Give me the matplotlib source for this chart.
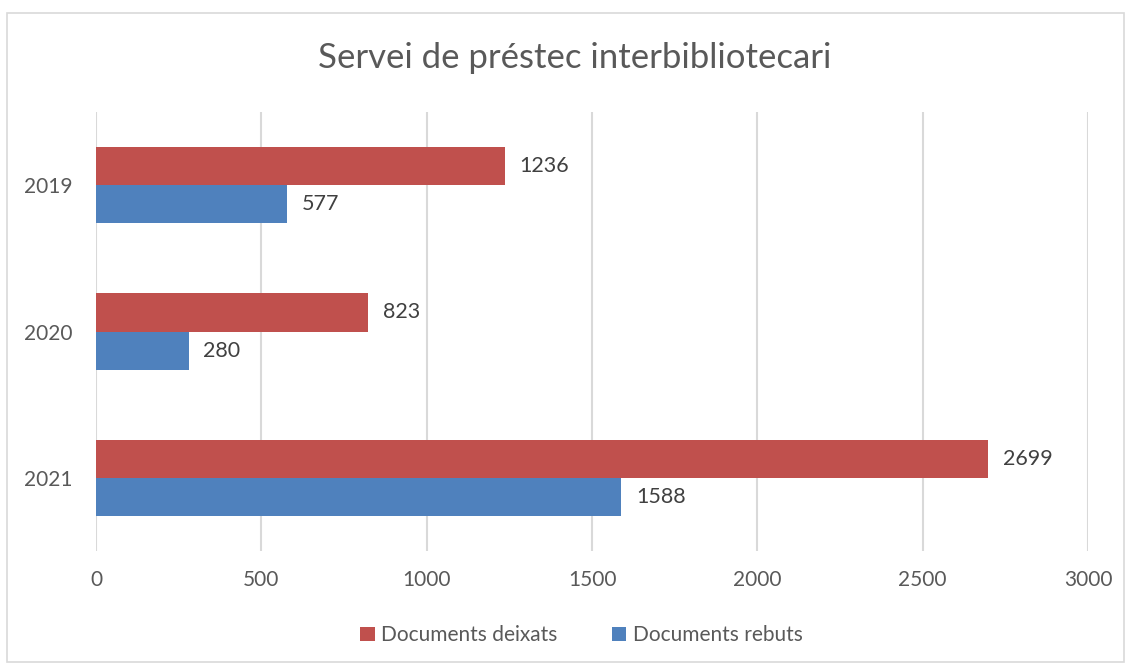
import matplotlib.pyplot as plt
from matplotlib.patches import Rectangle
import numpy as np

years = ["2019", "2020", "2021"]
deixats = [1236, 823, 2699]
rebuts = [577, 280, 1588]

plt.rcParams['font.family'] = ['Lato', 'DejaVu Sans']

fig = plt.figure(figsize=(11.31, 6.66), dpi=100)
ax = fig.add_axes([0.0849, 0.1727, 0.8771, 0.6591])

y = np.arange(len(years))
h = 0.26
red = '#C0504D'
blue = '#4F81BD'
b1 = ax.barh(y - h / 2, deixats, height=h, color=red, label="Documents deixats", zorder=3)
b2 = ax.barh(y + h / 2, rebuts, height=h, color=blue, label="Documents rebuts", zorder=3)

# data labels to the right of each bar
for bars, vals in ((b1, deixats), (b2, rebuts)):
    for bar, v in zip(bars, vals):
        ax.text(v + 45, bar.get_y() + bar.get_height() / 2, str(v),
                va='center', ha='left', fontsize=15.5, color='#404040')

ax.set_xlim(0, 3000)
ax.set_ylim(len(years) - 0.5, -0.5)
ax.set_xticks(np.arange(0, 3001, 500))
ax.set_yticks(y)
ax.set_yticklabels(years)
ax.tick_params(axis='both', length=0, labelsize=15, labelcolor='#595959')
ax.tick_params(axis='x', pad=14)
ax.tick_params(axis='y', pad=17)
ax.grid(axis='x', color='#D9D9D9', linewidth=1.5, zorder=0)
for s in ax.spines.values():
    s.set_visible(False)

fig.text(0.508, 0.913, "Servei de préstec interbibliotecari", ha='center', va='center',
         fontsize=25, color='#595959')

fig.legend(loc='center', bbox_to_anchor=(0.514, 0.046), ncol=2, frameon=False,
           fontsize=15, labelcolor='#595959', handlelength=0.7, handleheight=0.7,
           handletextpad=0.3, columnspacing=2.6)

# chart area border
fig.patches.append(Rectangle((7 / 1131, 4 / 666), 1117 / 1131, 649 / 666, transform=fig.transFigure,
                             fill=False, edgecolor='#D9D9D9', linewidth=1.2))

fig.savefig("out.png", dpi=100)
